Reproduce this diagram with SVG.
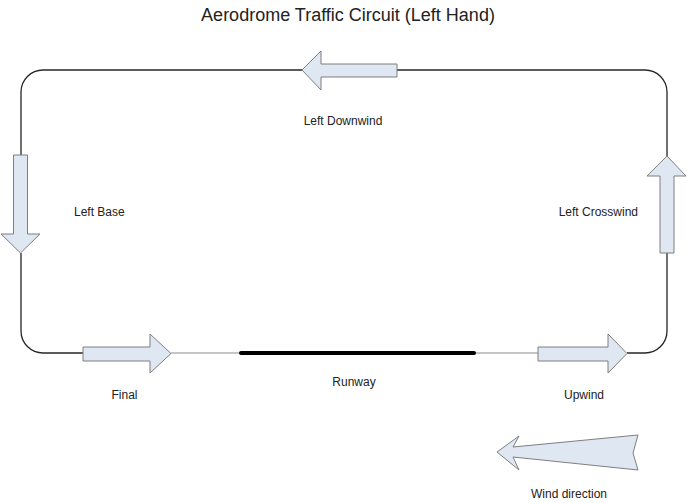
<svg xmlns="http://www.w3.org/2000/svg" width="687" height="503" viewBox="0 0 687 503">
<style>
.bg{fill:#ffffff}
.arrow{fill:#dfe7f3;stroke:#7f7f7f;stroke-width:1;stroke-linejoin:miter}
.route{fill:none;stroke:#262626;stroke-width:1.3}
.thin{fill:none;stroke:#8c8c8c;stroke-width:1}
.runway{stroke:#000000;stroke-width:4;stroke-linecap:round}
text{font-family:"Liberation Sans",Arial,sans-serif;fill:#222222}
.lbl{font-size:12px}
.title{font-size:18px}
</style>
<rect class="bg" x="0" y="0" width="687" height="503"/>
<text class="title" x="348" y="21" text-anchor="middle">Aerodrome Traffic Circuit (Left Hand)</text>
<g id="connectors">
<path class="route" d="M302,70 H43 A22,22 0 0 0 21,92 V155"/>
<path class="route" d="M21,253 V331 A22,22 0 0 0 43,353 H83"/>
<path class="thin" d="M171,353 H240"/>
<path class="thin" d="M475,353 H538"/>
<path class="route" d="M627,353 H645 A22,22 0 0 0 667,331 V253"/>
<path class="route" d="M667,156 V92 A22,22 0 0 0 645,70 H397"/>
</g>
<g id="runway">
<line class="runway" x1="241" y1="353" x2="474" y2="353"/>
<text class="lbl" x="354" y="386" text-anchor="middle">Runway</text>
</g>
<g id="downwind">
<polygon class="arrow" points="302,70 321,51 321,64 397,64 397,77 321,77 321,90"/>
<text class="lbl" x="343" y="125" text-anchor="middle">Left Downwind</text>
</g>
<g id="base">
<polygon class="arrow" points="20.5,253 1,234 13.5,234 13.5,155 27.5,155 27.5,234 40,234"/>
<text class="lbl" x="74" y="216">Left Base</text>
</g>
<g id="final">
<polygon class="arrow" points="171,353.5 150,334 150,347 83,347 83,361 150,361 150,373"/>
<text class="lbl" x="124.5" y="399" text-anchor="middle">Final</text>
</g>
<g id="upwind">
<polygon class="arrow" points="627,353.5 608,334 608,347 538,347 538,361 608,361 608,373"/>
<text class="lbl" x="584" y="399" text-anchor="middle">Upwind</text>
</g>
<g id="crosswind">
<polygon class="arrow" points="667,156 686,176 674,176 674,253 660,253 660,176 647,176"/>
<text class="lbl" x="638" y="216" text-anchor="end">Left Crosswind</text>
</g>
<g id="wind">
<polygon class="arrow" points="497,452 519,436 513,447 638,435 633,453 638,470 513,457 519,470"/>
<text class="lbl" x="569" y="498" text-anchor="middle">Wind direction</text>
</g>
</svg>
